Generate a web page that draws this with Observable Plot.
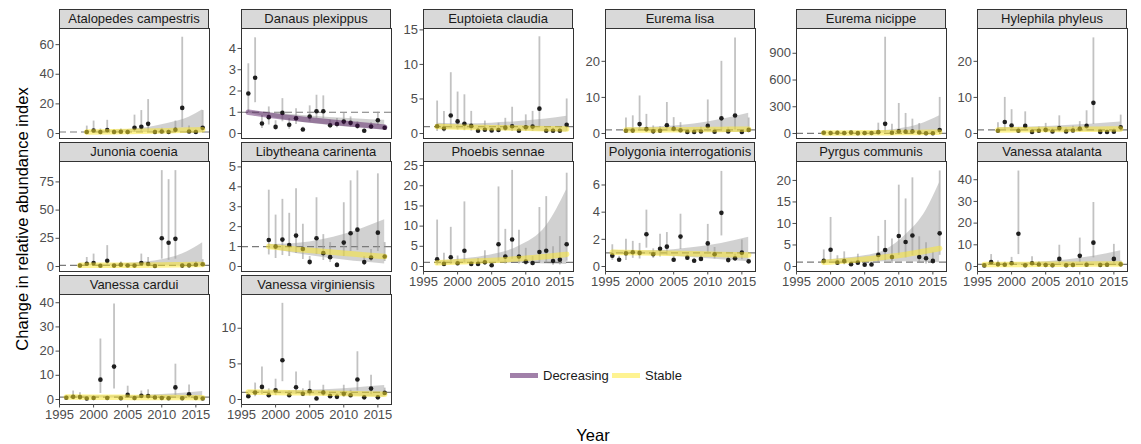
<!DOCTYPE html>
<html><head><meta charset="utf-8">
<script src="https://cdn.jsdelivr.net/npm/d3@7"></script>
<script src="https://cdn.jsdelivr.net/npm/@observablehq/plot@0.6"></script>
<style>
body{margin:0;background:#fff;font-family:"Liberation Sans",Arial,sans-serif;}
#root{position:relative;width:1141px;height:444px;overflow:hidden;background:#fff;}
.strip{position:absolute;box-sizing:border-box;background:#d9d9d9;border:1px solid #333;font-size:13px;color:#1a1a1a;text-align:center;line-height:17px;white-space:nowrap;}
.panel{position:absolute;}
.lab{position:absolute;white-space:nowrap;color:#000;}
</style></head><body><div id="root"></div><script>
// ---------- data ----------
const species = ["Atalopedes campestris","Danaus plexippus","Euptoieta claudia","Eurema lisa","Eurema nicippe","Hylephila phyleus","Junonia coenia","Libytheana carinenta","Phoebis sennae","Polygonia interrogationis","Pyrgus communis","Vanessa atalanta","Vanessa cardui","Vanessa virginiensis"];
const firstYear = [1999,1996,1997,1998,1999,1998,1998,1999,1997,1996,1999,1996,1996,1996];
const trendClass = ["Stable","Decreasing","Stable","Stable","Stable","Stable","Stable","Stable","Stable","Stable","Stable","Stable","Stable","Stable"];

const estimate = [
 [1.0,2.0,1.0,2.3,1.0,1.2,1.0,3.8,4.5,6.5,1.0,1.3,1.0,2.5,17.3,1.3,1.0,3.8],
 [1.88,2.62,0.47,0.77,0.31,0.97,0.41,0.72,0.19,0.80,1.05,1.05,0.39,0.45,0.56,0.50,0.36,0.13,0.33,0.62,0.27],
 [1.05,0.72,2.6,1.75,1.4,1.1,0.4,0.55,0.45,0.5,0.85,1.05,0.4,0.9,1.0,3.6,0.4,0.4,0.4,1.25],
 [0.75,0.8,2.6,1.2,0.6,0.75,2.3,1.3,0.9,0.4,0.4,0.55,2.1,0.5,4.2,0.55,5.0,0.4,1.0],
 [8,5,8,5,10,4,5,6,15,108,8,25,20,22,12,3,3,38],
 [0.75,3.2,2.2,0.75,2.1,0.45,0.75,1.0,0.55,1.5,0.55,0.85,1.3,2.1,8.5,0.45,0.4,0.5,1.7],
 [0.8,2.5,3.0,0.7,5.0,0.8,1.5,0.9,0.8,3.0,2.2,0.5,25,21,24.5,0.8,1.0,1.5,2.0],
 [1.33,1.0,1.35,1.08,1.55,0.88,0.23,1.42,0.67,0.47,0.08,1.2,1.67,1.85,0.22,0.45,1.7,0.5],
 [1.8,0.65,2.3,0.8,3.9,0.65,0.65,1.05,0.3,5.5,2.45,6.7,2.45,1.2,0.85,3.6,3.9,1.35,1.7,5.5],
 [0.8,0.5,0.97,1.05,1.0,2.37,0.9,1.3,1.46,0.5,2.2,0.65,0.42,0.56,1.7,0.9,3.95,0.47,0.6,1.02,0.38],
 [1.3,3.9,0.9,1.25,0.55,0.9,0.4,0.45,2.7,3.85,2.2,7.1,5.7,7.2,2.2,1.9,1.3,7.7],
 [0.5,2.0,1.0,0.8,1.5,15.1,0.6,1.5,0.9,0.7,0.6,3.5,0.6,0.7,4.9,0.8,11,0.7,0.8,3.5,1.0],
 [0.7,1.1,1.0,0.4,0.6,8.2,0.6,13.6,0.5,1.9,0.6,1.5,1.4,0.8,0.6,0.5,5.0,0.5,2.2,0.6,0.4],
 [0.47,0.98,1.77,0.6,1.3,5.5,0.6,1.72,0.8,1.17,0.15,0.98,0.47,0.37,0.8,0.6,2.8,0.3,1.53,0.3,0.93]
];
const upperCI = [
 [5.0,8.4,3.0,8.9,2.5,3.0,2.5,12.4,15.5,22.9,2.5,3.5,2.5,8.4,65,5.0,2.5,15.5],
 [3.28,4.5,0.85,1.25,0.6,1.64,0.7,1.17,0.3,1.3,1.8,1.77,0.63,0.7,0.94,0.78,0.55,0.2,0.52,1.0,0.4],
 [4.7,3.2,8.8,6.0,5.6,3.2,0.8,1.8,1.0,1.5,2.2,3.8,0.8,2.7,3.2,14,0.8,0.8,0.8,5.0],
 [4.3,4.9,10.4,5.3,2.1,1.9,8.6,4.4,3.0,1.2,1.2,1.7,9.3,1.3,20,1.6,26.5,1.0,4.3],
 [20,12,20,12,25,10,12,15,116,1080,105,337,225,161,112,20,20,405],
 [3.0,10,6.6,1.7,6.0,1.2,1.8,2.8,1.4,4.9,1.5,2.0,3.3,6.3,26.5,1.2,1.0,1.3,5.1],
 [2.5,8,11,2,18.5,2,4,2.5,2.5,11,8,1.5,85,77,85,2.5,3,4,6],
 [3.83,2.58,3.37,2.67,3.9,2.12,0.5,3.45,1.6,1.2,0.2,3.2,4.3,4.8,0.5,0.85,4.65,1.2],
 [11.5,3.3,9.7,2.6,16,1.2,2.0,3.9,0.8,19.7,9.2,23.8,9.0,4.5,2.5,14.6,17.3,4.9,7.4,23.1],
 [1.6,0.75,2.0,1.85,1.7,4.15,1.3,2.37,2.5,0.75,3.85,0.95,0.6,0.8,3.1,1.4,7.0,0.7,0.9,1.95,0.55],
 [3.85,11.4,2.5,3.4,1.2,2.85,0.9,1.0,7.0,10.7,6.4,18.9,15.7,20.6,6.9,5.5,3.3,22.2],
 [1.2,5.5,2.5,2.0,4.2,44,1.5,4.5,2.2,1.8,1.5,9.8,1.5,1.8,13.1,2.0,29.5,1.8,2.0,10.2,2.5],
 [1.6,3.5,2.8,1.0,1.5,25,1.4,39.5,1.2,5.5,1.3,3.5,4.0,1.8,1.4,1.3,14.6,1.2,6.0,1.4,1.0],
 [0.9,2.3,4.56,1.5,2.85,13.5,1.2,3.85,1.5,2.6,0.4,2.0,0.9,0.8,2.0,1.3,6.7,0.6,3.4,0.6,1.6]
];
const lowerCI = [
 [0.2,0.5,0.2,0.6,0.2,0.4,0.2,0.9,1.0,1.5,0.2,0.4,0.2,0.6,4.0,0.4,0.2,0.8],
 [1.0,1.45,0.23,0.4,0.15,0.55,0.2,0.42,0.08,0.55,0.7,0.7,0.23,0.27,0.36,0.31,0.2,0.05,0.19,0.39,0.15],
 [0.3,0.2,0.8,0.5,0.4,0.35,0.15,0.15,0.15,0.15,0.3,0.3,0.1,0.3,0.3,0.9,0.1,0.1,0.1,0.3],
 [0.2,0.2,0.6,0.3,0.15,0.2,0.6,0.35,0.25,0.1,0.1,0.15,0.5,0.1,0.9,0.15,1.0,0.1,0.25],
 [2,1,2,1,3,1,1,1,2,12,1,3,2,3,1,0.5,0.5,4],
 [0.2,1.0,0.7,0.25,0.6,0.1,0.25,0.3,0.15,0.4,0.15,0.3,0.4,0.6,2.5,0.1,0.1,0.15,0.5],
 [0.2,0.5,0.6,0.2,1.0,0.2,0.4,0.2,0.2,0.6,0.5,0.1,6.5,5.5,6.5,0.2,0.3,0.4,0.5],
 [0.58,0.4,0.55,0.5,0.65,0.35,0.05,0.6,0.3,0.2,0.02,0.5,0.75,0.8,0.05,0.25,0.75,0.25],
 [0.3,0.1,0.5,0.2,0.9,0.2,0.15,0.25,0.05,1.3,0.6,1.8,0.6,0.3,0.2,0.8,0.9,0.3,0.4,1.3],
 [0.45,0.3,0.45,0.6,0.55,1.35,0.6,0.7,0.85,0.3,1.25,0.45,0.28,0.38,0.9,0.55,2.25,0.3,0.4,0.5,0.25],
 [0.4,1.3,0.3,0.4,0.15,0.3,0.1,0.1,0.9,1.3,0.7,2.6,2.0,2.5,0.7,0.6,0.5,2.6],
 [0.2,0.6,0.3,0.25,0.5,5.5,0.2,0.5,0.3,0.2,0.2,1.2,0.2,0.2,1.8,0.25,4.0,0.2,0.25,1.2,0.3],
 [0.25,0.3,0.3,0.1,0.2,2.5,0.2,4.3,0.15,0.6,0.2,0.5,0.5,0.25,0.2,0.15,1.6,0.15,0.7,0.2,0.1],
 [0.2,0.4,0.7,0.25,0.55,2.5,0.3,0.75,0.4,0.5,0.05,0.45,0.2,0.15,0.3,0.25,1.2,0.1,0.65,0.1,0.5]
];

// fitted trend (read at a few years) and its confidence band
const trendYears = [
 [1999,2003,2007,2011,2014,2016],[1996,2000,2004,2008,2012,2016],[1997,2001,2005,2009,2013,2016],
 [1998,2002,2006,2010,2013,2016],[1999,2003,2007,2010,2013,2016],[1998,2002,2006,2010,2013,2016],
 [1998,2002,2006,2010,2013,2016],[1999,2003,2007,2010,2013,2016],[1997,2001,2005,2009,2013,2016],
 [1996,2000,2004,2008,2012,2016],[1999,2002,2005,2008,2011,2014,2016],[1996,2000,2004,2008,2012,2016],
 [1996,2000,2004,2008,2012,2016],[1996,2000,2004,2008,2012,2016]
];
const trendEst = [
 [1.0,1.2,1.5,1.9,2.3,2.6],[1.0,0.82,0.67,0.54,0.42,0.3],[1.0,0.92,0.85,0.78,0.7,0.65],
 [0.95,1.0,1.05,1.1,1.15,1.2],[6,7,8,10,12,15],[1.0,1.05,1.1,1.15,1.2,1.25],
 [1.0,1.1,1.2,1.4,1.6,1.8],[1.0,0.87,0.75,0.67,0.58,0.5],[0.9,1.2,1.5,1.9,2.5,3.0],
 [1.05,1.01,0.97,0.93,0.89,0.85],[1.0,1.3,1.7,2.2,2.8,3.6,4.2],[0.9,0.95,1.0,1.05,1.1,1.15],
 [1.0,0.95,0.9,0.85,0.8,0.75],[1.05,0.99,0.93,0.87,0.81,0.75]
];
const trendLo = [
 [0.6,0.7,0.7,0.6,0.5,0.45],[0.95,0.72,0.52,0.38,0.27,0.17],[0.65,0.6,0.5,0.4,0.3,0.2],
 [0.6,0.55,0.5,0.4,0.3,0.25],[3,3,3,2.5,2,1.5],[0.6,0.6,0.6,0.55,0.5,0.45],
 [0.6,0.6,0.5,0.4,0.3,0.2],[0.9,0.65,0.45,0.33,0.22,0.13],[0.55,0.7,0.8,0.8,0.65,0.5],
 [0.9,0.88,0.8,0.65,0.5,0.35],[0.7,0.9,1.0,1.1,1.1,1.0,0.9],[0.55,0.55,0.5,0.4,0.3,0.2],
 [0.6,0.6,0.5,0.4,0.3,0.2],[0.88,0.8,0.7,0.58,0.45,0.35]
];
const trendHi = [
 [1.5,2.2,3.5,7,11,16],[1.05,0.95,0.85,0.75,0.68,0.62],[1.5,1.4,1.5,1.75,2.1,2.5],
 [1.5,1.7,2.2,3.2,4.3,5.6],[10,14,25,50,100,200],[1.6,1.75,2.0,2.4,2.8,3.2],
 [1.6,2.0,3.2,6.0,11,21],[1.1,1.15,1.35,1.6,1.95,2.35],[1.3,1.9,2.9,5.0,10,19],
 [1.2,1.15,1.2,1.4,1.7,2.15],[1.4,1.9,2.5,3.8,7.3,13,19.5],[1.4,1.6,2.0,3.0,4.7,7.3],
 [1.6,1.5,1.5,1.8,2.4,3.3],[1.25,1.2,1.25,1.4,1.65,1.95]
];

const yTicks = [[0,20,40,60],[0,1,2,3,4],[0,5,10,15],[0,10,20],[0,300,600,900],[0,10,20],
 [0,25,50,75],[0,1,2,3,4,5],[0,5,10,15,20,25],[0,2,4,6],[0,5,10,15,20],[0,10,20,30,40],
 [0,10,20,30,40],[0,5,10]];
const yLimitTop = [70.9,4.94,15.2,29.1,1178,29.1,93.1,5.27,26.0,7.73,24.4,48.4,43.4,14.74];
const xTicks = [1995,2000,2005,2010,2015];
const xDomain = [1995,2017];
const legendLabels = ["Decreasing","Stable"];

// ---------- layout / style ----------
const colors = {Decreasing:"#440154", Stable:"#FDE725"};
const colLeft = [59,241,423,605,796,977];
const rowTop = [28,161,294];
const panelW = 150, panelH = 110, stripH = 19, ML = 45, MB = 24;
const font = '"Liberation Sans", Arial, sans-serif';
const root = document.getElementById("root");

species.forEach((name,i)=>{
  const row = Math.floor(i/6), col = i%6;
  const hasX = i + 6 >= species.length;
  const obs = estimate[i].map((v,k)=>({year:firstYear[i]+k, est:v, lo:lowerCI[i][k], hi:upperCI[i][k]}));
  const tr = trendYears[i].map((y,k)=>({year:y, est:trendEst[i][k], lo:trendLo[i][k], hi:trendHi[i][k]}));
  const top = yLimitTop[i], bottom = -top*0.05/1.05;
  const marks = [
    Plot.areaY(tr,{x:"year",y1:"lo",y2:"hi",fill:"#9a9a9a",fillOpacity:0.45,curve:"monotone-x"}),
    Plot.ruleY([1],{stroke:"#7a7a7a",strokeWidth:1.2,strokeDasharray:"7,4"}),
    Plot.ruleX(obs,{x:"year",y1:"lo",y2:"hi",stroke:"#999",strokeOpacity:0.6,strokeWidth:1.8}),
    Plot.dot(obs,{x:"year",y:"est",r:2.3,fill:"#1f1f1f"}),
    Plot.line(tr,{x:"year",y:"est",stroke:colors[trendClass[i]],strokeOpacity:trendClass[i]==="Decreasing"?0.42:0.5,strokeWidth:5.5,curve:"monotone-x"}),
    Plot.frame({stroke:"#333",strokeWidth:1}),
    Plot.axisY({ticks:yTicks[i],tickFormat:d=>String(d),tickSize:3.5,tickPadding:2,color:"#4d4d4d",fontSize:13,label:null})
  ];
  if (hasX) marks.push(Plot.axisX({ticks:xTicks,tickFormat:d=>String(d),tickSize:3.5,tickPadding:1.5,color:"#4d4d4d",fontSize:13,label:null}));
  const p = Plot.plot({
    width: panelW+ML, height: panelH+(hasX?MB:0),
    marginLeft: ML, marginRight: 0, marginTop: 0, marginBottom: hasX?MB:0,
    x:{domain:xDomain, axis: hasX ? undefined : null},
    y:{domain:[bottom,top]},
    style:{fontFamily:font,fontSize:"13px",background:"transparent",overflow:"visible"},
    marks
  });
  p.classList.add("panel");
  p.style.left = (colLeft[col]-ML)+"px";
  p.style.top = rowTop[row]+"px";
  root.appendChild(p);
  const s = document.createElement("div");
  s.className = "strip";
  s.textContent = name;
  s.style.left = colLeft[col]+"px";
  s.style.top = (rowTop[row]-stripH)+"px";
  s.style.width = panelW+"px";
  s.style.height = (stripH+1)+"px";
  root.appendChild(s);
});

// axis titles
const yt = document.createElement("div");
yt.className="lab"; yt.textContent="Change in relative abundance index";
Object.assign(yt.style,{left:"22px",top:"219px",fontSize:"16.5px",transform:"translate(-50%,-50%) rotate(-90deg)"});
root.appendChild(yt);
const xt = document.createElement("div");
xt.className="lab"; xt.textContent="Year";
Object.assign(xt.style,{left:"593px",top:"435px",fontSize:"16.5px",transform:"translate(-50%,-50%)"});
root.appendChild(xt);

// legend
const legX = [[510,543],[612,645]];
legendLabels.forEach((lab,k)=>{
  const sw = document.createElement("div");
  Object.assign(sw.style,{position:"absolute",left:legX[k][0]+"px",top:"373px",width:"28px",height:"4.5px",background:colors[lab],opacity:0.5});
  root.appendChild(sw);
  const t = document.createElement("div");
  t.className="lab"; t.textContent=lab;
  Object.assign(t.style,{left:legX[k][1]+"px",top:"375px",fontSize:"13px",color:"#1a1a1a",transform:"translateY(-50%)"});
  root.appendChild(t);
});
</script></body></html>
